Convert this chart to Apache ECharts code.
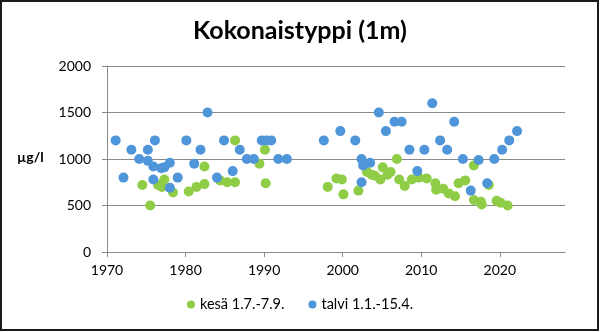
<!DOCTYPE html>
<html>
<head>
<meta charset="utf-8">
<script src="https://cdn.jsdelivr.net/npm/echarts@6/dist/echarts.min.js"></script>
<style>
html,body{margin:0;padding:0;background:#fff;}
#chart{width:600px;height:332px;}
</style>
</head>
<body>
<div id="chart"></div>
<script>
var titleText = 'Kokonaistyppi (1m)';
var yName = 'µg/l';
var seriesNames = ['kesä 1.7.-7.9.', 'talvi 1.1.-15.4.'];
var xTickLabels = [1970, 1980, 1990, 2000, 2010, 2020];
var yTickLabels = [0, 500, 1000, 1500, 2000];

var kesaYears  = [1974.5,1975.5,1976.5,1977.0,1977.3,1978.4,1980.4,1981.4,1982.4,1982.4,1984.4,1985.3,1986.3,1986.3,1989.4,1990.1,1990.2,
                  1998.1,1999.2,1999.9,2000.1,2002.0,2003.1,2003.7,2004.1,2004.8,2005.1,2005.7,2006.1,2006.9,2007.2,2007.9,2008.8,2009.7,2010.7,2011.8,2011.9,2012.8,2013.5,2014.3,2014.75,2015.6,2016.7,2016.7,2017.6,2017.7,2018.6,2019.6,2020.1,2021.0];
var kesaValues = [720,500,720,700,780,640,650,700,920,730,770,750,750,1200,950,1100,740,
                  700,790,780,620,660,860,830,820,780,910,830,860,1000,780,710,780,800,790,740,670,680,630,600,740,770,930,560,540,510,720,550,530,500];

var talviYears  = [1971.1,1972.1,1973.1,1974.1,1975.2,1975.2,1975.9,1975.9,1976.1,1976.9,1977.3,1978.0,1978.0,1979.0,1980.1,1981.1,1981.9,1982.8,1984.0,1984.9,1986.0,1986.9,1987.8,1988.7,1989.7,1990.3,1990.9,1991.8,1992.9,
                   1997.6,1999.7,2001.6,2002.4,2002.6,2003.5,2002.4,2004.6,2005.5,2006.6,2007.5,2008.5,2009.5,2010.4,2011.4,2012.4,2013.3,2014.2,2015.3,2016.3,2017.3,2018.4,2019.3,2020.3,2021.2,2022.2];
var talviValues = [1200,800,1100,1000,1100,980,920,780,1200,900,910,960,690,800,1200,950,1100,1500,800,1200,870,1100,1000,1000,1200,1200,1200,1000,1000,
                   1200,1300,1200,1000,930,960,750,1500,1300,1400,1400,1100,870,1100,1600,1200,1100,1400,1000,660,990,740,1000,1100,1200,1300];

var colors = ['#8fcd47', '#4f95d9'];

function zip(xs, ys){ return xs.map(function(x,i){ return [x, ys[i]]; }); }
function plain(v){ return String(v); }

var chart = echarts.init(document.getElementById('chart'));
var font = 'Lato, "Open Sans", sans-serif';
chart.setOption({
  animation: false,
  textStyle: {fontFamily: font},
  title: {
    text: titleText, left: 'center', top: 13,
    textStyle: {fontSize: 25, fontWeight: 'bold', color: '#000', fontFamily: font}
  },
  legend: {
    data: seriesNames, bottom: 15, left: 'center', itemGap: 24,
    icon: 'circle', itemWidth: 8, itemHeight: 8,
    textStyle: {fontSize: 14.5, color: '#000', fontFamily: font}
  },
  grid: {left: 107, right: 35, top: 66, bottom: 80},
  graphic: [
    {type: 'rect', shape: {x: 1, y: 1, width: 597, height: 329}, style: {fill: 'none', stroke: '#1a1a1a', lineWidth: 2}, silent: true},
    {type: 'text', left: 17, top: 150, style: {text: yName, font: 'bold 14px ' + font, fill: '#000'}}
  ],
  xAxis: {
    type: 'value', min: 1970, max: 2028.3, interval: 10,
    splitLine: {show: false},
    axisLine: {lineStyle: {color: '#8a8a8a', width: 1}},
    axisTick: {show: true, length: 5, customValues: xTickLabels, lineStyle: {color: '#8a8a8a'}},
    axisLabel: {customValues: xTickLabels, formatter: plain, margin: 11, fontSize: 14, color: '#000', fontFamily: font}
  },
  yAxis: {
    type: 'value', min: 0, max: 2000, interval: 500,
    splitLine: {show: true, lineStyle: {color: '#8a8a8a', width: 1}},
    axisLine: {show: true, lineStyle: {color: '#8a8a8a', width: 1}},
    axisTick: {show: true, length: 5, lineStyle: {color: '#8a8a8a'}},
    axisLabel: {formatter: plain, margin: 16, fontSize: 14, color: '#000', fontFamily: font}
  },
  series: [
    {name: seriesNames[0], type: 'scatter', symbolSize: 10, itemStyle: {color: colors[0], opacity: 1}, data: zip(kesaYears, kesaValues), z: 2},
    {name: seriesNames[1], type: 'scatter', symbolSize: 10, itemStyle: {color: colors[1], opacity: 1}, data: zip(talviYears, talviValues), z: 3}
  ]
});
</script>
</body>
</html>
